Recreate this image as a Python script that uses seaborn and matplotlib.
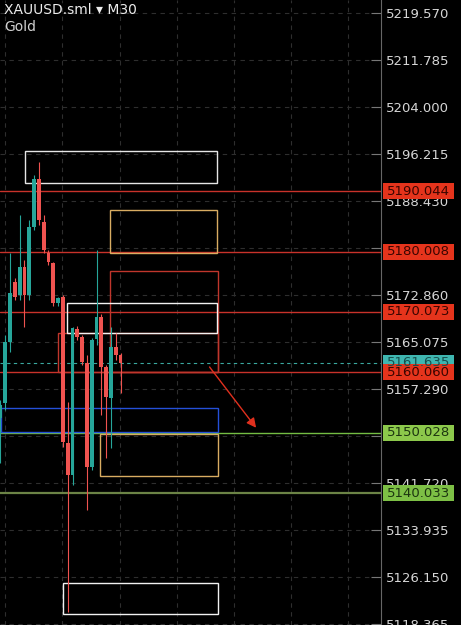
import numpy as np
import pandas as pd
import matplotlib
matplotlib.use('Agg')
import matplotlib.pyplot as plt
import matplotlib.transforms as mtransforms
from matplotlib.patches import Rectangle
import seaborn as sns

# M30 candles (bar index, OHLC)
opens = [5152.48, 5154.97, 5165.07, 5175.01, 5172.86, 5177.50, 5172.86, 5184.12, 5192.07,
         5184.95, 5179.82, 5178.16, 5171.53, 5172.53, 5148.34, 5143.04, 5167.23, 5165.90,
         5161.59, 5144.37, 5165.57, 5169.21, 5160.93, 5155.80, 5164.24, 5162.92]
highs = [5155.47, 5166.23, 5179.82, 5175.60, 5186.11, 5178.66, 5185.28, 5192.74, 5194.89,
         5186.11, 5180.31, 5178.32, 5172.53, 5172.86, 5155.13, 5167.56, 5167.72, 5166.23,
         5162.92, 5165.74, 5180.31, 5169.71, 5161.26, 5167.56, 5166.56, 5163.25]
lows = [5145.03, 5153.81, 5163.42, 5172.03, 5172.03, 5167.56, 5172.03, 5183.63, 5184.45,
        5179.82, 5177.83, 5171.04, 5171.04, 5147.68, 5120.35, 5141.39, 5165.40, 5161.26,
        5137.24, 5143.87, 5164.58, 5152.98, 5145.86, 5147.51, 5162.09, 5156.62]
closes = [5154.64, 5165.07, 5173.19, 5172.53, 5177.50, 5172.86, 5184.12, 5192.07, 5185.28,
          5180.31, 5178.32, 5171.53, 5172.36, 5148.51, 5143.04, 5167.39, 5165.90, 5161.76,
          5144.37, 5165.40, 5169.21, 5160.93, 5155.96, 5164.24, 5162.92, 5161.64]

# price scale labels on the right
tick_prices = [5219.570, 5211.785, 5204.000, 5196.215, 5188.430, 5180.645, 5172.860,
               5165.075, 5157.290, 5149.505, 5141.720, 5133.935, 5126.150, 5118.365]
# labels fully covered by level tags in the screenshot
hidden_ticks = [5180.645, 5149.505]

# horizontal levels with their tags
level_prices = [5190.044, 5180.008, 5170.073, 5160.060, 5150.028, 5140.033]
level_colors = ['#c8322a', '#c8322a', '#c8322a', '#c8322a', '#74bd43', '#6c8446']
tag_colors = ['#e5341c', '#e5341c', '#e5341c', '#e5341c', '#8cc84b', '#7dbf45']
tag_text_colors = ['#3a0500', '#3a0500', '#3a0500', '#3a0500', '#1c3510', '#1c3510']
last_price = 5161.635

# zones (bar start, bar end, price low, price high, edge colour)
zone_x0 = [5.1, 22.8, 22.8, 12.0, 13.9, 0.1, 20.7, 13.0]
zone_x1 = [45.1, 45.1, 45.3, 45.3, 45.1, 45.3, 45.3, 45.3]
zone_lo = [5191.4, 5179.8, 5160.06, 5160.06, 5166.56, 5150.16, 5142.9, 5120.0]
zone_hi = [5196.7, 5186.9, 5176.8, 5166.6, 5171.5, 5154.1, 5149.8, 5125.15]
zone_colors = ['#e6e6e6', '#d9ad62', '#c0362c', '#c0362c', '#f2f2f2', '#2450d8', '#d9ad62', '#f2f2f2']

# projected move arrow
arrow_start = (43.2, 5161.3)
arrow_end = (53.6, 5150.5)

df = pd.DataFrame({'bar': np.arange(len(opens)), 'open': opens, 'high': highs,
                   'low': lows, 'close': closes})
df['up'] = df['close'] >= df['open']

sns.set_style('dark', {'axes.facecolor': '#000000', 'figure.facecolor': '#000000'})
plt.rcParams['font.family'] = ['DejaVu Sans']

fig = plt.figure(figsize=(4.61, 6.25), dpi=100)
ax = fig.add_axes([0, 0, 381 / 461, 1])
ax.set_facecolor('#000000')
ax.set_xlim(-0.104, 79.27)
ax.set_ylim(5118.2, 5221.72)

# grid
for p in tick_prices:
    ax.axhline(p, color='#2e2e2e', lw=0.8, ls=(0, (4, 4)), zorder=0)
for gx in np.arange(1, 80, 11.9):
    ax.axvline(gx, color='#2e2e2e', lw=0.8, ls=(0, (4, 4)), zorder=0)

# zones
for x0, x1, lo, hi, c in zip(zone_x0, zone_x1, zone_lo, zone_hi, zone_colors):
    ax.add_patch(Rectangle((x0, lo), x1 - x0, hi - lo, fill=False, ec=c, lw=1.0, zorder=3))

# levels
for p, c in zip(level_prices, level_colors):
    ax.axhline(p, color=c, lw=1.0 if c != '#6c8446' else 1.6, zorder=2)
ax.axhline(last_price, color='#3aa8a0', lw=0.8, ls=(0, (3, 3)), zorder=2)

# candles
up_c, dn_c = '#26a69a', '#ef5350'
colors = np.where(df['up'], up_c, dn_c)
ax.vlines(df['bar'], df['low'], df['high'], colors=colors, lw=0.8, zorder=4)
body_lo = df[['open', 'close']].min(axis=1)
body_h = (df['close'] - df['open']).abs().clip(lower=0.35)
ax.bar(df['bar'], body_h, bottom=body_lo, width=0.76, color=colors, lw=0, zorder=5)

ax.annotate('', xy=arrow_end, xytext=arrow_start,
            arrowprops=dict(arrowstyle='-|>', color='#e0301e', lw=1.0,
                            mutation_scale=14), zorder=6)

# right price scale
ax.yaxis.tick_right()
ax.set_yticks(tick_prices)
ax.set_yticklabels(['' if p in hidden_ticks else f'{p:.3f}' for p in tick_prices])
ax.tick_params(axis='y', direction='in', length=7, width=0.8, color='#777777',
               labelcolor='#d6d6d6', labelsize=9.5, pad=3.5)
ax.set_xticks([])
for s in ['top', 'left', 'bottom']:
    ax.spines[s].set_visible(False)
ax.spines['right'].set_visible(True)
ax.spines['right'].set_color('#666666')
ax.spines['right'].set_linewidth(0.8)

# price tags
trans = mtransforms.blended_transform_factory(ax.transAxes, ax.transData)
tag_h = 16 / 6.037
tags = list(zip([last_price], ['#3fb6b0'], ['#174f4c'])) + \
    list(zip(level_prices, tag_colors, tag_text_colors))
for p, fc, tc in tags:
    ax.add_patch(Rectangle((1 + 2 / 381, p - tag_h / 2), 71 / 381, tag_h, transform=trans,
                           fc=fc, ec='none', clip_on=False, zorder=10))
    ax.text(1 + 6 / 381, p, f'{p:.3f}', transform=trans, color=tc, fontsize=9.5,
            va='center', ha='left', clip_on=False, zorder=11)

fig.text(4 / 461, 1 - 10 / 625, 'XAUUSD.sml \u25be M30', color='#ececec', fontsize=10,
         va='center', ha='left')
fig.text(4 / 461, 1 - 27 / 625, 'Gold', color='#d0d0d0', fontsize=10, va='center', ha='left')

fig.savefig('out.png', dpi=100, facecolor='#000000')
